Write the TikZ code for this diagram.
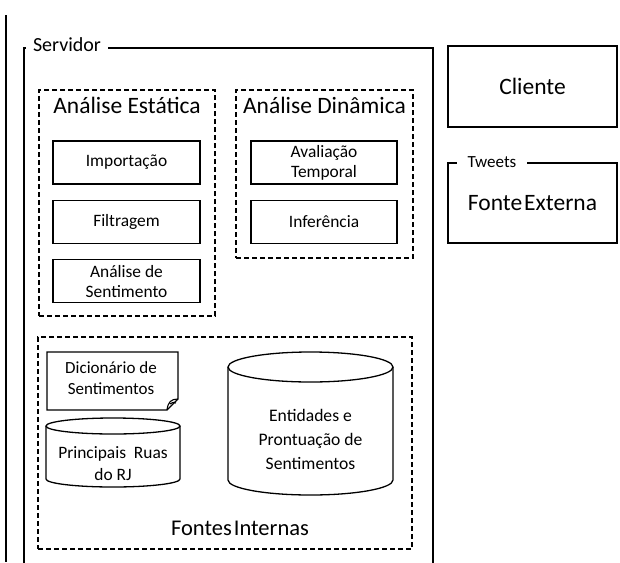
\documentclass[tikz,border=0pt]{standalone}
\usepackage{fontspec}
\setmainfont{Carlito}
\usetikzlibrary{positioning}

\begin{document}
\begin{tikzpicture}[x=1pt, y=-1pt,
    caixa/.style={draw, line width=1.3pt, minimum width=147pt, minimum height=43pt,
        inner sep=0pt, align=center, font=\fontsize{17.4}{20}\selectfont},
    grupo/.style={draw, line width=1.2pt, dash pattern=on 5pt off 3pt},
    quadro/.style={draw, line width=1.3pt},
    titulo/.style={font=\fontsize{23.5}{26}\selectfont},
    texto/.style={align=center, font=\fontsize{17.4}{22}\selectfont},
    rotulo/.style={fill=white, inner xsep=7pt, inner ysep=2pt}]
    \useasboundingbox (0,0) rectangle (620,562);

    % margem da pagina
    \draw[line width=1.4pt] (6,15) -- (6,562);

    % Servidor (aberto em baixo)
    \draw[quadro] (24,563) |- (433,48) -- (433,563);
    \node[rotulo, font=\fontsize{20}{22}\selectfont] (servidor) at (67,45) {Servidor};

    % Analise estatica
    \node[grupo, minimum width=176pt, minimum height=226pt] (estatica) at (127,203) {};
    \node[titulo, below=4pt of estatica.north] (tit_est) {Análise Estática};
    \node[caixa] (importacao) at (126.5,162.5) {Importação};
    \node[caixa, below=15pt of importacao] (filtragem) {Filtragem};
    \node[caixa, below=15pt of filtragem] (sentimento) {Análise de\\Sentimento};

    % Analise dinamica
    \node[grupo, minimum width=177pt, minimum height=168pt] (dinamica) at (324.5,174) {};
    \node[titulo, below=4pt of dinamica.north] (tit_din) {Análise Dinâmica};
    \node[caixa, minimum width=146pt] (avaliacao) at (324,162.5) {Avaliação\\Temporal};
    \node[caixa, minimum width=146pt, below=15pt of avaliacao] (inferencia) {Inferência};

    % Fontes internas
    \node[grupo, minimum width=374pt, minimum height=212pt] (internas) at (225,443) {};
    \node[titulo, font=\fontsize{22.5}{26}\selectfont, above=10pt of internas.south, xshift=15pt] (tit_int)
        {Fontes\hspace{2pt}Internas};

    % dicionario (documento com canto dobrado)
    \draw[line width=1.3pt] (47,352) -- (178,352) -- (178,399) -- (167,410) -- (47,410) -- cycle;
    \draw[line width=1.1pt] (178,399) .. controls (171,399) and (168,402) .. (167,410);
    \draw[line width=1.1pt] (170,404) .. controls (172,402) and (174,402) .. (176,403);
    \node[texto, font=\fontsize{17}{21}\selectfont] (dicionario) at (111,378.5) {Dicionário de\\Sentimentos};

    % cilindro das ruas
    \draw[line width=1.3pt] (46,426) -- (46,479)
        arc[start angle=180, end angle=360, x radius=67pt, y radius=8pt] -- (180,426);
    \draw[line width=1.3pt] (113,426) ellipse [x radius=67pt, y radius=8pt];
    \node[texto] (ruas) at (113,464) {Principais\ \ Ruas\\do RJ};

    % cilindro das entidades
    \draw[line width=1.3pt] (228,367) -- (228,480)
        arc[start angle=180, end angle=360, x radius=82.5pt, y radius=15pt] -- (393,367);
    \draw[line width=1.3pt] (310.5,367) ellipse [x radius=82.5pt, y radius=15pt];
    \node[texto, font=\fontsize{17.6}{24}\selectfont] (entidades) at (310.5,439) {Entidades e\\Prontuação de\\Sentimentos};

    % Cliente e fonte externa
    \node[quadro, minimum width=169pt, minimum height=81pt, titulo] (cliente) at (532.5,86.5) {Cliente};
    \node[quadro, minimum width=169pt, minimum height=80pt, titulo] (externa) at (532.5,203)
        {Fonte\hspace{2pt}Externa};
    \node[rotulo, inner xsep=11pt, font=\fontsize{17}{19}\selectfont] (tweets) at (492,162) {Tweets};
\end{tikzpicture}
\end{document}
